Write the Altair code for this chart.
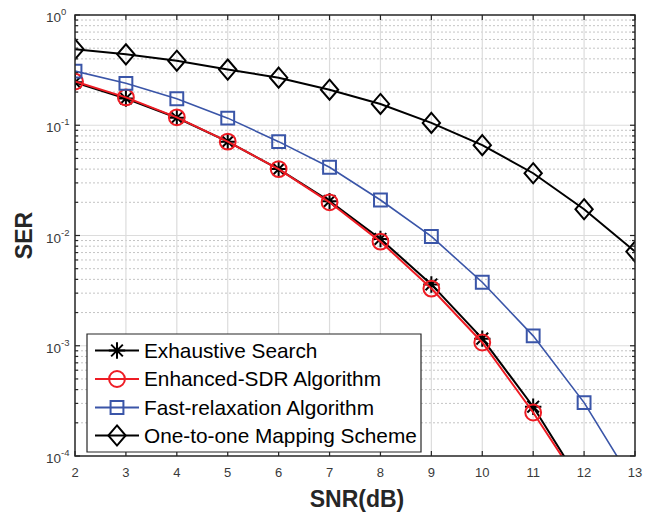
import altair as alt
import pandas as pd

# ---- data -------------------------------------------------------------
snr = [2, 3, 4, 5, 6, 7, 8, 9, 10, 11, 12, 13]

series_names = [
    "Exhaustive Search",
    "Enhanced-SDR Algorithm",
    "Fast-relaxation Algorithm",
    "One-to-one Mapping Scheme",
]

ser_exhaustive = [0.245, 0.175, 0.117, 0.071, 0.040, 0.0205, 0.0093, 0.0036, 0.00116, 0.00028, 5.1e-5]
ser_enhanced = [0.249, 0.179, 0.118, 0.071, 0.040, 0.0200, 0.0088, 0.0033, 0.00107, 0.000248, 4.9e-5]
ser_fast = [0.31, 0.24, 0.174, 0.116, 0.071, 0.0416, 0.021, 0.0098, 0.00377, 0.00123, 0.000305, 5.4e-5]
ser_one2one = [0.49, 0.44, 0.385, 0.32, 0.27, 0.21, 0.156, 0.105, 0.066, 0.0367, 0.0173, 0.00715]

x_ticks = list(range(2, 14))
y_decades = [1, 1e-1, 1e-2, 1e-3, 1e-4]
y_exponents = ["0", "-1", "-2", "-3", "-4"]

# ---- styling ----------------------------------------------------------
W, H = 560, 441
FONT = "Liberation Sans"
ASTERISK = "M-1,0L1,0M0,-1L0,1M-0.71,-0.71L0.71,0.71M-0.71,0.71L0.71,-0.71"
DIAMOND = "M0,-1.16L1,0L0,1.16L-1,0Z"

styles = [
    dict(color="#000000", shape=ASTERISK, size=270, lw=2.0),
    dict(color="#ee1c24", shape="circle", size=250, lw=2.0),
    dict(color="#3a55a8", shape="square", size=165, lw=1.6),
    dict(color="#000000", shape=DIAMOND, size=300, lw=2.0),
]
series_values = [ser_exhaustive, ser_enhanced, ser_fast, ser_one2one]

xs = alt.Scale(domain=[2, 13], nice=False, zero=False)
ys = alt.Scale(type="log", domain=[1e-4, 1], nice=False)

layers = []

# ---- grid -------------------------------------------------------------
minor_vals = [k * 10.0 ** e for e in range(-4, 0) for k in range(2, 10)]
grid_minor = alt.Chart(pd.DataFrame({"v": minor_vals})).mark_rule(
    color="#c4c4c4", strokeWidth=1, strokeDash=[2, 2]
).encode(y=alt.Y("v:Q", scale=ys, axis=None))
grid_major_y = alt.Chart(pd.DataFrame({"v": y_decades[1:-1]})).mark_rule(
    color="#dcdcdc", strokeWidth=1.2
).encode(y=alt.Y("v:Q", scale=ys, axis=None))
grid_major_x = alt.Chart(pd.DataFrame({"v": x_ticks[1:-1]})).mark_rule(
    color="#dcdcdc", strokeWidth=1.2
).encode(x=alt.X("v:Q", scale=xs, axis=None))
layers += [grid_minor, grid_major_y, grid_major_x]

# ---- series -----------------------------------------------------------
for name, vals, st in zip(series_names, series_values, styles):
    df = pd.DataFrame({"snr": snr[: len(vals)], "ser": vals, "name": name})
    base = alt.Chart(df).encode(
        x=alt.X("snr:Q", scale=xs, axis=None),
        y=alt.Y("ser:Q", scale=ys, axis=None),
    )
    layers.append(base.mark_line(color=st["color"], strokeWidth=st["lw"], clip=True))
    layers.append(
        base.mark_point(
            shape=st["shape"], size=st["size"], color=st["color"],
            strokeWidth=2, filled=False, opacity=1, clip=True,
        )
    )

# ---- frame and inward ticks ---------------------------------------------
frame_color = "#262626"
xt = pd.DataFrame({"v": x_ticks})
for y0, y1 in [(H, H - 5), (0, 5)]:
    layers.append(
        alt.Chart(xt).mark_rule(color=frame_color, strokeWidth=1.2).encode(
            x=alt.X("v:Q", scale=xs, axis=None), y=alt.value(y0), y2=alt.value(y1)
        )
    )
yt_major = pd.DataFrame({"v": y_decades})
yt_minor = pd.DataFrame({"v": minor_vals})
for df, ln in [(yt_major, 5), (yt_minor, 3)]:
    for x0, x1 in [(0, ln), (W, W - ln)]:
        layers.append(
            alt.Chart(df).mark_rule(color=frame_color, strokeWidth=1.2).encode(
                y=alt.Y("v:Q", scale=ys, axis=None), x=alt.value(x0), x2=alt.value(x1)
            )
        )
layers.append(
    alt.Chart(alt.Data(values=[{}])).mark_rect(
        fillOpacity=0, stroke=frame_color, strokeWidth=1.5
    ).encode(x=alt.value(0), x2=alt.value(W), y=alt.value(0), y2=alt.value(H))
)

# ---- tick labels --------------------------------------------------------
label_color = "#3a3a3a"
layers.append(
    alt.Chart(xt).mark_text(
        font=FONT, fontSize=13, color=label_color, baseline="middle", align="center"
    ).encode(x=alt.X("v:Q", scale=xs, axis=None), y=alt.value(H + 17), text="v:Q")
)
ydf = pd.DataFrame({"v": y_decades, "e": y_exponents})
layers.append(
    alt.Chart(ydf).mark_text(
        font=FONT, fontSize=13.5, color=label_color, baseline="middle", align="right", dy=3
    ).encode(x=alt.value(-14), y=alt.Y("v:Q", scale=ys, axis=None), text=alt.value("10"))
)
layers.append(
    alt.Chart(ydf).mark_text(
        font=FONT, fontSize=9.5, color=label_color, baseline="middle", align="left", dy=-3
    ).encode(x=alt.value(-14), y=alt.Y("v:Q", scale=ys, axis=None), text="e:N")
)

# ---- axis titles --------------------------------------------------------
layers.append(
    alt.Chart(alt.Data(values=[{}])).mark_text(
        text="SNR(dB)", font=FONT, fontSize=23, fontWeight="bold", color="#262626",
        baseline="middle", align="center",
    ).encode(x=alt.value(W / 2 + 2), y=alt.value(H + 44))
)
layers.append(
    alt.Chart(alt.Data(values=[{}])).mark_text(
        text="SER", font=FONT, fontSize=23, fontWeight="bold", color="#262626",
        baseline="middle", align="center", angle=270,
    ).encode(x=alt.value(-50), y=alt.value(H / 2))
)

# ---- legend -------------------------------------------------------------
lx0, lx1, ly0, ly1 = 12, 346, 319, 437
layers.append(
    alt.Chart(alt.Data(values=[{}])).mark_rect(
        fill="white", stroke="#262626", strokeWidth=1.2
    ).encode(x=alt.value(lx0), x2=alt.value(lx1), y=alt.value(ly0), y2=alt.value(ly1))
)
row_y = [335.5, 364, 392.5, 420.5]
for name, st, ry in zip(series_names, styles, row_y):
    one = alt.Chart(alt.Data(values=[{"name": name}]))
    layers.append(
        one.mark_rule(color=st["color"], strokeWidth=2.2).encode(
            x=alt.value(20), x2=alt.value(64), y=alt.value(ry)
        )
    )
    layers.append(
        one.mark_point(
            shape=st["shape"], size=st["size"], color=st["color"],
            strokeWidth=2, filled=False, opacity=1,
        ).encode(x=alt.value(42), y=alt.value(ry))
    )
    layers.append(
        one.mark_text(
            font=FONT, fontSize=20.8, color="#000000", align="left", baseline="middle"
        ).encode(x=alt.value(69), y=alt.value(ry + 1), text="name:N")
    )

chart = (
    alt.layer(*layers)
    .properties(
        width=W,
        height=H,
        autosize="none",
        padding={"left": 75, "top": 15, "right": 22, "bottom": 56},
        background="white",
    )
    .configure_view(stroke=None)
)

chart.save("out.html", embed_options={"renderer": "svg", "actions": False})
